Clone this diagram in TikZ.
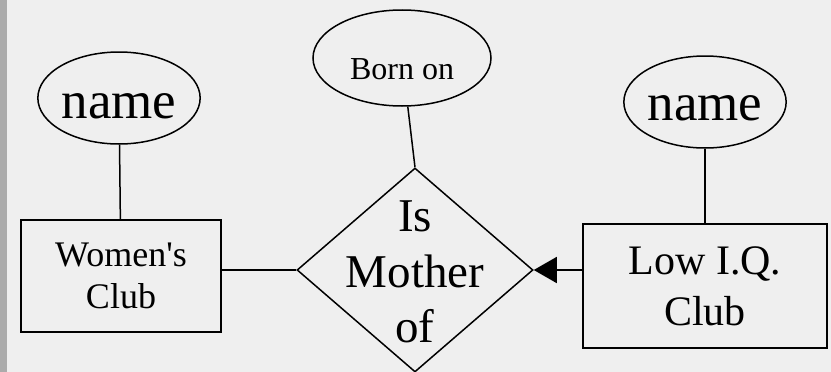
\documentclass[tikz,border=0pt]{standalone}
\usepackage{fontspec}
\setmainfont{Liberation Serif}
\usepackage{tikz}
\usetikzlibrary{arrows.meta,shapes.geometric}
\definecolor{erback}{HTML}{EFEFEF}
\definecolor{erstrip}{HTML}{ABABAB}

\begin{document}
\begin{tikzpicture}[
  x=1pt, y=-1pt,
  attr/.style={draw, ellipse, inner sep=0pt, text depth=0pt, line width=1.5pt},
  entity/.style={draw, rectangle, align=center, inner sep=0pt, line width=1.5pt},
  rel/.style={draw, diamond, inner sep=0pt, minimum width=236pt, minimum height=204pt, line width=1.5pt},
  link/.style={line width=1.5pt}
]
\fill[erback] (0,0) rectangle (831,372);
\fill[erstrip] (0,0) rectangle (7,372);
\useasboundingbox (0,0) rectangle (831,372);
% entities
\node[entity, minimum width=200pt, minimum height=112pt, font=\fontsize{36}{42}\selectfont] (women) at (121,276) {Women\textquotesingle s\\Club};
\node[entity, minimum width=244pt, minimum height=124pt, font=\fontsize{42}{51}\selectfont] (lowiq) at (705,286) {Low I.Q.\\Club};
% relationship
\node[rel] (mother) at (415,270) {};
\node[align=center, font=\fontsize{47}{55.5}\selectfont] (mothertext) at (415,272) {Is\\Mother\\of};
% attributes
\node[attr, minimum width=156pt, minimum height=92pt, text height=40pt, font=\fontsize{53}{60}\selectfont] (nameL) at (119,98) {name};
\node[attr, minimum width=178pt, minimum height=96pt, text height=42pt, font=\fontsize{32}{38}\selectfont] (born) at (402,58) {Born on};
\node[attr, minimum width=156pt, minimum height=92pt, text height=36pt, font=\fontsize{53}{60}\selectfont] (nameR) at (705,102) {name};
% connectors
\draw[link] (nameL) -- (women);
\draw[link] (born) -- (mother.north);
\draw[link] (nameR) -- (lowiq);
\draw[link] (women.east |- mother.west) -- (mother.west);
\draw[link, {Triangle[length=23pt, width=26pt]}-] (mother.east) -- (mother.east -| lowiq.west);
\end{tikzpicture}
\end{document}
